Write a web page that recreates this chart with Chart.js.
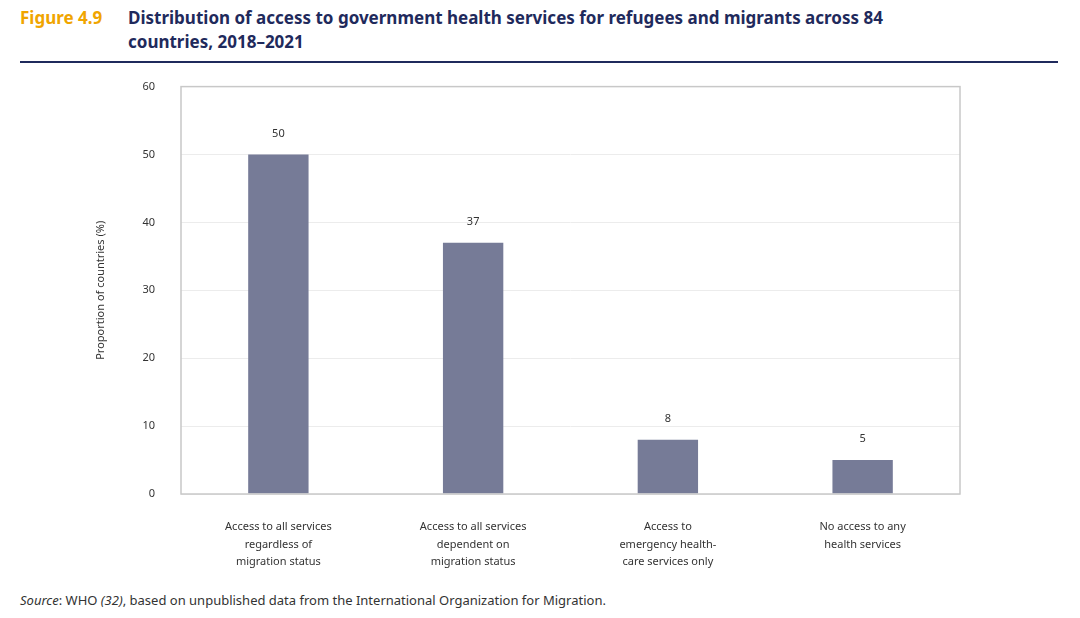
<!DOCTYPE html>
<html>
<head>
<meta charset="utf-8">
<script src="https://cdn.jsdelivr.net/npm/chart.js@4"></script>
<style>
  body { margin: 0; width: 1080px; height: 618px; background: #fff; font-family: "Noto Sans", sans-serif; position: relative; overflow: hidden; }
  .fig { position: absolute; left: 20px; top: 6px; font-size: 17px; font-weight: bold; color: #f0a500; }
  .title { position: absolute; left: 128px; top: 6px; width: 820px; font-size: 17px; font-weight: bold; color: #1f2a5c; line-height: 24px; }
  .rule { position: absolute; left: 20px; top: 61px; width: 1038px; height: 2px; background: #1f2a5c; }
  .src { position: absolute; left: 20px; top: 591px; font-size: 13px; color: #333; }
  #wrap { position: absolute; left: 90px; top: 54px; width: 880px; height: 526px; }
</style>
</head>
<body>
<div class="fig">Figure 4.9</div>
<div class="title">Distribution of access to government health services for refugees and migrants across 84 countries, 2018–2021</div>
<div class="rule"></div>
<div id="wrap"><canvas id="c"></canvas></div>
<div class="src"><i>Source</i>: WHO <i>(32)</i>, based on unpublished data from the International Organization for Migration.</div>
<script>
const categories = [
    ['Access to all services', 'regardless of', 'migration status'],
    ['Access to all services', 'dependent on', 'migration status'],
    ['Access to', 'emergency health-', 'care services only'],
    ['No access to any', 'health services']
];
const values = [50, 37, 8, 5];
const yTicks = [0, 10, 20, 30, 40, 50, 60];

const extras = {
    id: 'extras',
    afterDatasetsDraw(chart) {
        const c = chart.ctx, a = chart.chartArea;
        c.save();
        c.strokeStyle = '#c8c8c8';
        c.lineWidth = 1.5;
        c.strokeRect(a.left, a.top, a.right - a.left, a.bottom - a.top);
        c.fillStyle = '#333';
        c.font = '11px "Noto Sans"';
        c.textAlign = 'center';
        chart.getDatasetMeta(0).data.forEach((bar, i) => {
            c.fillText(values[i], bar.x, bar.y - 18);
        });
        c.restore();
    }
};

new Chart(document.getElementById('c'), {
    type: 'bar',
    data: {
        labels: categories,
        datasets: [{ data: values, backgroundColor: '#767b97', barPercentage: 0.31, categoryPercentage: 1 }]
    },
    options: {
        responsive: true,
        maintainAspectRatio: false,
        animation: false,
        layout: { padding: { top: 6, right: 10 } },
        plugins: { legend: { display: false }, tooltip: { enabled: false } },
        scales: {
            x: {
                grid: { display: false },
                border: { display: false },
                ticks: { color: '#333', font: { size: 11, family: 'Noto Sans', lineHeight: 1.6 }, maxRotation: 0, padding: 16 },
                afterFit(s) { s.height = 86; }
            },
            y: {
                min: 0, max: 60,
                afterBuildTicks(s) { s.ticks = yTicks.map(v => ({ value: v })); },
                grid: { color: '#ececec', drawTicks: false },
                border: { display: false },
                ticks: { color: '#333', font: { size: 11, family: 'Noto Sans' }, padding: 26 },
                title: { display: true, text: 'Proportion of countries (%)', color: '#333', font: { size: 11, family: 'Noto Sans' } },
                afterFit(s) { s.width = 91; }
            }
        }
    },
    plugins: [extras]
});
</script>
</body>
</html>
